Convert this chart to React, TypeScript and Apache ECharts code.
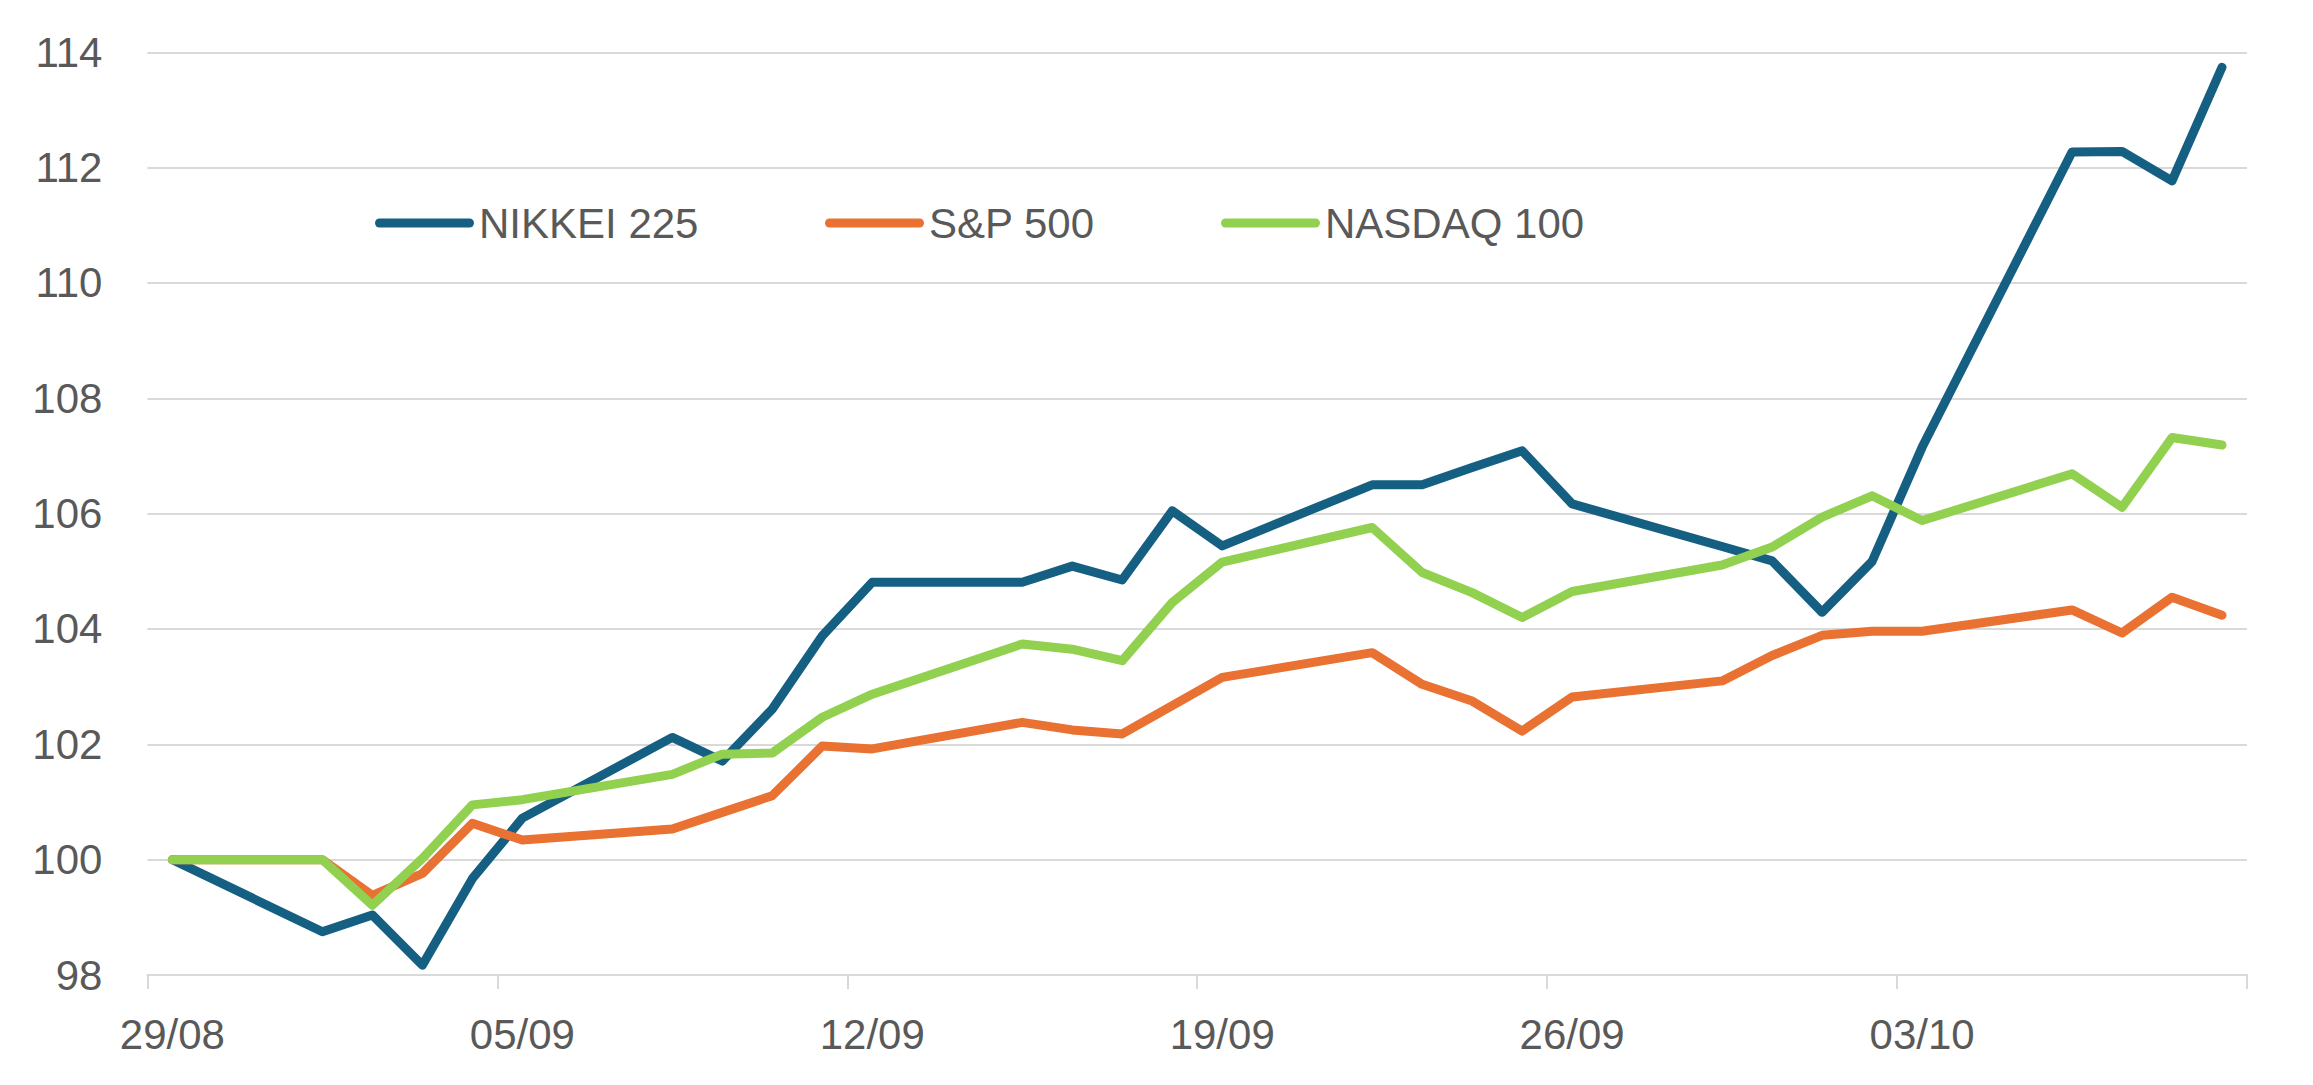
import React, { useEffect, useRef } from "react";
import * as echarts from "echarts";

const startDate = "2025-08-29";
const dates = [
  "2025-08-29", "2025-09-01", "2025-09-02", "2025-09-03", "2025-09-04", "2025-09-05",
  "2025-09-08", "2025-09-09", "2025-09-10", "2025-09-11", "2025-09-12",
  "2025-09-15", "2025-09-16", "2025-09-17", "2025-09-18", "2025-09-19",
  "2025-09-22", "2025-09-23", "2025-09-24", "2025-09-25", "2025-09-26",
  "2025-09-29", "2025-09-30", "2025-10-01", "2025-10-02", "2025-10-03",
  "2025-10-06", "2025-10-07", "2025-10-08", "2025-10-09",
];
const nikkei = [
  100, 98.75, 99.04, 98.17, 99.67, 100.72,
  102.12, 101.71, 102.61, 103.88, 104.81,
  104.81, 105.09, 104.85, 106.05, 105.44,
  106.5, 106.5, 106.8, 107.09, 106.17,
  105.43, 105.18, 104.29, 105.17, 107.15,
  112.27, 112.28, 111.77, 113.74,
];
const sp500 = [
  100, 100, 99.38, 99.76, 100.63, 100.34,
  100.53, 100.82, 101.11, 101.97, 101.92,
  102.38, 102.25, 102.18, 102.67, 103.16,
  103.59, 103.04, 102.75, 102.23, 102.82,
  103.1, 103.54, 103.89, 103.96, 103.96,
  104.33, 103.93, 104.55, 104.24,
];
const nasdaq = [
  100, 100, 99.21, 100.02, 100.95, 101.04,
  101.48, 101.83, 101.85, 102.47, 102.87,
  103.74, 103.65, 103.45, 104.46, 105.16,
  105.76, 104.98, 104.63, 104.2, 104.65,
  105.11, 105.42, 105.94, 106.31, 105.88,
  106.69, 106.11, 107.32, 107.19,
];
const seriesNames = ["NIKKEI 225", "S&P 500", "NASDAQ 100"];
const seriesColors = ["#156082", "#E97132", "#92D050"];
const axisEndDate = "2025-10-10";

const DAY = 86400000;
const FONT = "'Liberation Sans', Arial, sans-serif";
const TEXT = "#595959";
const GRID = "#D9D9D9";

export default function App() {
  const ref = useRef<HTMLDivElement>(null);

  useEffect(() => {
    if (!ref.current) return;
    const chart = echarts.init(ref.current, undefined, { renderer: "svg" });
    const start = Date.parse(startDate);
    const xMax = (Date.parse(axisEndDate) - start) / DAY;
    const toPoints = (vals: number[]) =>
      vals.map((v, i) => [(Date.parse(dates[i]) - start) / DAY + 0.5, v]);

    const capsule =
      "path://M4.5,0 L94.5,0 A4.5,4.5 0 0 1 94.5,9 L4.5,9 A4.5,4.5 0 0 1 4.5,0 Z";
    const legendBase = {
      top: 202,
      padding: 0,
      icon: capsule,
      itemWidth: 99,
      itemHeight: 9,
      selectedMode: false,
      textStyle: { fontSize: 42, color: TEXT, fontFamily: FONT },
    };
    const legendLefts = [375, 825, 1221];

    const all = [nikkei, sp500, nasdaq];

    chart.setOption({
      animation: false,
      backgroundColor: "#FFFFFF",
      textStyle: { fontFamily: FONT },
      grid: { left: 147.4, right: 66, top: 52.3, bottom: 110, containLabel: false },
      legend: seriesNames.map((n, i) => ({ ...legendBase, left: legendLefts[i], data: [n] })),
      xAxis: {
        type: "value",
        min: 0,
        max: xMax,
        interval: 7,
        axisLine: { show: true, lineStyle: { color: GRID, width: 2 } },
        axisTick: { show: true, length: 14, lineStyle: { color: GRID, width: 2 } },
        splitLine: { show: false },
        axisLabel: {
          fontSize: 42,
          color: TEXT,
          fontFamily: FONT,
          margin: 38,
          padding: [0, 0, 0, 50],
          formatter: (v: number) => {
            if (v >= xMax) return "";
            const d = new Date(start + v * DAY);
            const dd = String(d.getUTCDate()).padStart(2, "0");
            const mm = String(d.getUTCMonth() + 1).padStart(2, "0");
            return dd + "/" + mm;
          },
        },
      },
      yAxis: {
        type: "value",
        min: 98,
        max: 114,
        interval: 2,
        axisLine: { show: false },
        axisTick: { show: false },
        splitLine: { show: true, lineStyle: { color: GRID, width: 2 } },
        axisLabel: { fontSize: 42, color: TEXT, fontFamily: FONT, margin: 45 },
      },
      series: seriesNames.map((n, i) => ({
        name: n,
        type: "line",
        data: toPoints(all[i]),
        showSymbol: false,
        symbol: "none",
        color: seriesColors[i],
        lineStyle: { width: 9, color: seriesColors[i], cap: "round", join: "round" },
        z: 2 + i,
      })),
    });
    return () => chart.dispose();
  }, []);

  return (
    <div
      ref={ref}
      style={{ position: "absolute", left: 0, top: 0, width: "2313px", height: "1085px" }}
    />
  );
}
